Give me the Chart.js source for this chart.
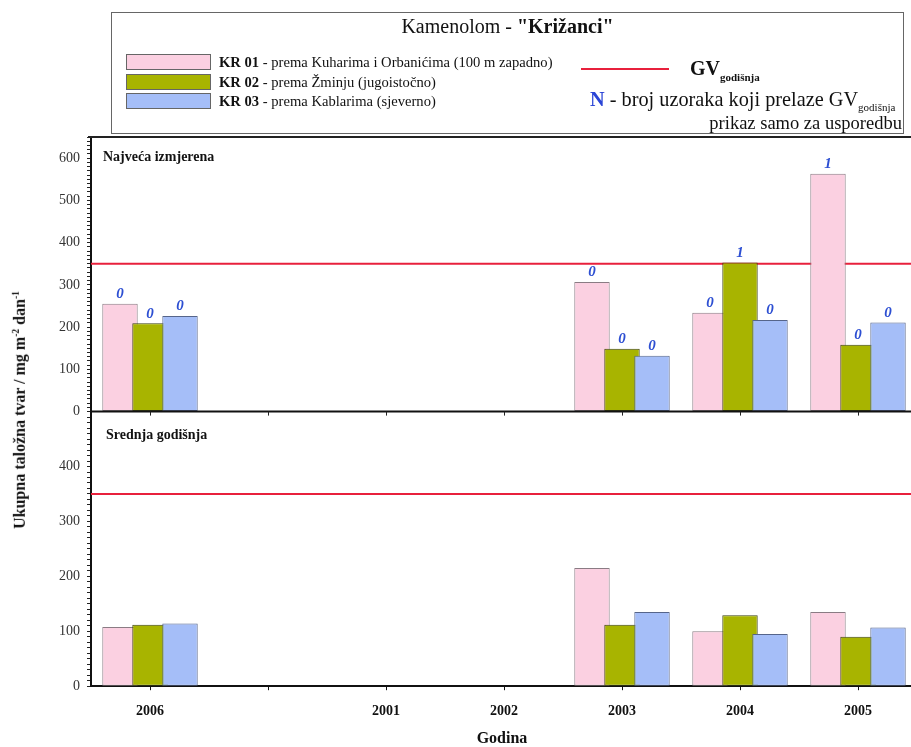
<!DOCTYPE html>
<html>
<head>
<meta charset="utf-8">
<script src="https://cdn.jsdelivr.net/npm/chart.js@4.4.1/dist/chart.umd.min.js"></script>
<style>
  html, body { margin: 0; padding: 0; background: #fff; overflow: hidden; }
  #wrap { position: relative; width: 911px; height: 747px; overflow: hidden; background: #fff; }
  #c { position: absolute; left: 0; top: 0; }
  .t { position: absolute; font-family: 'Liberation Serif', 'Times New Roman', serif; white-space: nowrap; color: #111; }
  .sw { position: absolute; box-sizing: border-box; border: 1px solid #666; }
  .ln { position: absolute; }
</style>
</head>
<body>
<div id="wrap">
  <canvas id="c" width="920" height="747"></canvas>
  <div id="legendBox" style="position:absolute;left:111px;top:12px;width:793px;height:122px;border:1px solid #666;box-sizing:border-box;"></div>
  <div id="overlay"></div>
</div>
<script>
// ---------------- data ----------------
const chartTitle = 'Kamenolom - ';
const chartTitleBold = '"Križanci"';
const categories = ['2006', '', '2001', '2002', '2003', '2004', '2005'];
const seriesCodes = ['KR 01', 'KR 02', 'KR 03'];
const seriesDesc = [' - prema Kuharima i Orbanićima (100 m zapadno)', ' - prema Žminju (jugoistočno)', ' - prema Kablarima (sjeverno)'];
const seriesColors = ['#fbd0e1', '#a8b400', '#a5bef8'];
const seriesBorders = ['#8a7c84', '#3c4210', '#56658a'];

// Najveća izmjerena (maximum measured)
const maxKR01 = [255, null, null, null, 307, 234, 563];
const maxKR02 = [209, null, null, null, 149, 353, 158];
const maxKR03 = [226, null, null, null, 132, 217, 211];
// N - broj uzoraka koji prelaze GV
const nKR01 = ['0', null, null, null, '0', '0', '1'];
const nKR02 = ['0', null, null, null, '0', '1', '0'];
const nKR03 = ['0', null, null, null, '0', '0', '0'];
// Srednja godišnja (annual mean)
const meanKR01 = [108, null, null, null, 215, 100, 135];
const meanKR02 = [112, null, null, null, 112, 129, 90];
const meanKR03 = [114, null, null, null, 135, 95, 107];

const gvLimit = 350;
const maxAxisMax = 650;
const meanAxisMax = 500;
const maxTickLabels = [0, 100, 200, 300, 400, 500, 600];
const meanTickLabels = [0, 100, 200, 300, 400];
const panelLabels = ['Najveća izmjerena', 'Srednja godišnja'];
const xTitle = 'Godina';

// ---------------- build ----------------
const FONT = "'Liberation Serif', 'Times New Roman', serif";
const maxSeries = [maxKR01, maxKR02, maxKR03];
const meanSeries = [meanKR01, meanKR02, meanKR03];
const nSeries = [nKR01, nKR02, nKR03];

function makeDs(i, data, axis) {
  return {
    label: seriesCodes[i] + seriesDesc[i],
    data: data,
    backgroundColor: seriesColors[i],
    borderColor: seriesBorders[i],
    borderWidth: 1,
    borderSkipped: false,
    yAxisID: axis,
    stack: 's' + i,
    categoryPercentage: 0.763,
    barPercentage: 1.18
  };
}
const datasets = [];
maxSeries.forEach((d, i) => datasets.push(makeDs(i, d, 'yMax')));
meanSeries.forEach((d, i) => datasets.push(makeDs(i, d, 'yMean')));

function minorTicks(max) {
  return function (scale) {
    const arr = [];
    for (let v = 0; v <= max; v += 10) arr.push({ value: v });
    scale.ticks = arr;
  };
}
function yAxis(max, labels) {
  return {
    type: 'linear', position: 'left', stack: 'v', stackWeight: 1,
    min: 0, max: max, z: 1,
    afterBuildTicks: minorTicks(max),
    afterFit: s => { s.width = 91; },
    ticks: {
      autoSkip: false,
      padding: 7,
      color: '#333',
      font: { family: FONT, size: 14 },
      callback: v => labels.includes(v) ? String(v) : ''
    },
    grid: { drawOnChartArea: false, tickLength: 4, tickColor: '#222', tickWidth: 1 },
    border: { color: '#111', width: 2 }
  };
}

const customDraw = {
  id: 'customDraw',
  beforeDatasetsDraw(chart) {
    const ctx = chart.ctx, a = chart.chartArea;
    ['yMax', 'yMean'].forEach(id => {
      const y = chart.scales[id].getPixelForValue(gvLimit);
      ctx.save();
      ctx.strokeStyle = '#e8203c';
      ctx.lineWidth = 2;
      ctx.beginPath(); ctx.moveTo(a.left, y); ctx.lineTo(a.right, y); ctx.stroke();
      ctx.restore();
    });
    for (let i = 0; i < chart.data.datasets.length; i++) {
      const meta = chart.getDatasetMeta(i);
      if (meta.visible) meta.controller.draw();
    }
    ctx.save();
    ctx.font = "italic bold 15px " + FONT;
    ctx.fillStyle = '#2d4fd2';
    ctx.textAlign = 'center';
    ctx.textBaseline = 'bottom';
    for (let i = 0; i < 3; i++) {
      const meta = chart.getDatasetMeta(i);
      meta.data.forEach((el, j) => {
        const n = nSeries[i][j];
        if (n !== null && maxSeries[i][j] !== null) ctx.fillText(n, el.x, el.y - 2);
      });
    }
    ctx.restore();
    return false;
  },
  afterDraw(chart) {
    const ctx = chart.ctx, a = chart.chartArea;
    const yTop = chart.scales.yMax;
    const xs = chart.scales.x;
    ctx.save();
    ctx.strokeStyle = '#111';
    ctx.lineWidth = 2;
    ctx.beginPath(); ctx.moveTo(a.left, yTop.bottom); ctx.lineTo(a.right, yTop.bottom); ctx.stroke();
    ctx.strokeStyle = '#222';
    ctx.beginPath(); ctx.moveTo(a.left - 3, a.top); ctx.lineTo(a.right, a.top); ctx.stroke();
    ctx.lineWidth = 1;
    for (let i = 0; i < categories.length; i++) {
      const x = Math.round(xs.getPixelForValue(i)) + 0.5;
      ctx.beginPath(); ctx.moveTo(x, yTop.bottom); ctx.lineTo(x, yTop.bottom + 4); ctx.stroke();
    }
    ctx.restore();
  }
};

new Chart(document.getElementById('c'), {
  type: 'bar',
  data: { labels: categories, datasets: datasets },
  options: {
    responsive: false,
    animation: false,
    layout: { padding: { top: 137, left: 0, right: 3, bottom: 14 } },
    plugins: { legend: { display: false }, tooltip: { enabled: false }, title: { display: false } },
    scales: {
      x: {
        type: 'category', offset: true, z: 1,
        grid: { drawOnChartArea: false, offset: false, tickLength: 4, tickColor: '#111' },
        border: { color: '#111', width: 2 },
        ticks: { autoSkip: false, maxRotation: 0, padding: 13, color: '#111', font: { family: FONT, size: 14, weight: 'bold' } }
      },
      yMean: yAxis(meanAxisMax, meanTickLabels),
      yMax: yAxis(maxAxisMax, maxTickLabels)
    }
  },
  plugins: [customDraw]
});

// ---------------- HTML text: legend, titles ----------------
const ov = document.getElementById('overlay');
function add(html, style, cls) {
  const d = document.createElement('div');
  d.className = cls || 't';
  d.innerHTML = html;
  d.setAttribute('style', style);
  ov.appendChild(d);
  return d;
}
add(chartTitle + '<b>' + chartTitleBold + '</b>', 'left:111px;width:793px;top:15px;text-align:center;font-size:20px;line-height:22px;');
const rowTops = [54, 74, 93];
seriesCodes.forEach((code, i) => {
  add('', 'left:126px;top:' + rowTops[i] + 'px;width:85px;height:16px;background:' + seriesColors[i] + ';', 'sw');
  add('<b>' + code + '</b>' + seriesDesc[i], 'left:219px;top:' + rowTops[i] + 'px;font-size:14.6px;line-height:16px;');
});
add('', 'left:581px;top:68px;width:88px;height:2px;background:#e8203c;', 'ln');
add('<b>GV<sub style="font-size:11px;vertical-align:-6px">godišnja</sub></b>', 'left:690px;top:57px;font-size:20px;line-height:22px;');
add('<b style="color:#2b45d6">N</b> - broj uzoraka koji prelaze GV<sub style="font-size:11px;vertical-align:-5px">godišnja</sub>', 'left:590px;top:88px;font-size:20.3px;line-height:22px;');
add('prikaz samo za usporedbu', 'left:0;width:902px;text-align:right;top:112px;font-size:18.5px;line-height:22px;');
add(panelLabels[0], 'left:103px;top:149px;font-size:14px;line-height:16px;font-weight:bold;');
add(panelLabels[1], 'left:106px;top:427px;font-size:14px;line-height:16px;font-weight:bold;');
add(xTitle, 'left:452px;width:100px;text-align:center;top:729px;font-size:16px;line-height:18px;font-weight:bold;');
add('Ukupna taložna tvar / mg m<sup style="font-size:9.5px">-2</sup> dan<sup style="font-size:9.5px">-1</sup>',
    'left:18px;top:410px;transform:translate(-50%,-50%) rotate(-90deg);font-size:16px;line-height:18px;font-weight:bold;');
</script>
</body>
</html>
